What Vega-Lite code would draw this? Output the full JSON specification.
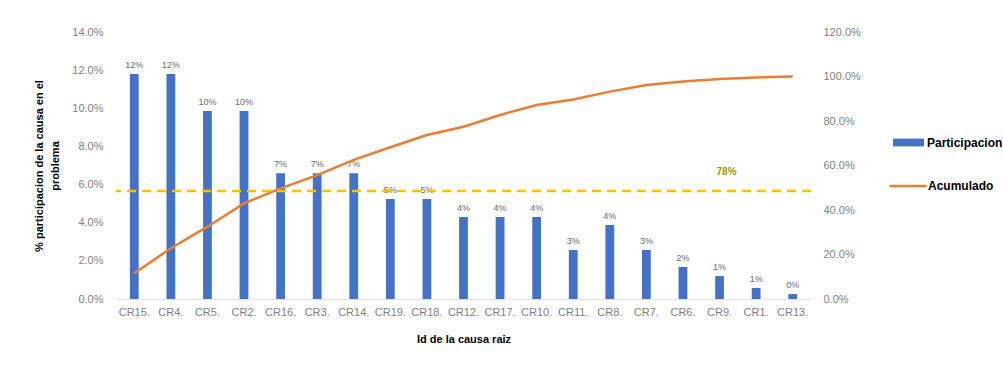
{
  "$schema": "https://vega.github.io/schema/vega-lite/v6.json",
  "autosize": "none",
  "width": 695,
  "height": 267,
  "padding": {"left": 116, "top": 32, "right": 192, "bottom": 77},
  "background": "white",
  "config": {
    "font": "Liberation Sans",
    "view": {"stroke": null},
    "axis": {"grid": false, "ticks": false, "labelColor": "#7f7f7f", "labelFontSize": 11, "titleFontWeight": "bold", "titleColor": "#000000", "titleFontSize": 11}
  },
  "datasets": {
    "causas": [
      {"id": "CR15.", "pct": 0.118, "acum": 0.116},
      {"id": "CR4.", "pct": 0.118, "acum": 0.228},
      {"id": "CR5.", "pct": 0.0986, "acum": 0.325},
      {"id": "CR2.", "pct": 0.0986, "acum": 0.43},
      {"id": "CR16.", "pct": 0.066, "acum": 0.497},
      {"id": "CR3.", "pct": 0.066, "acum": 0.557},
      {"id": "CR14.", "pct": 0.066, "acum": 0.625},
      {"id": "CR19.", "pct": 0.0524, "acum": 0.682},
      {"id": "CR18.", "pct": 0.0524, "acum": 0.737},
      {"id": "CR12.", "pct": 0.043, "acum": 0.774},
      {"id": "CR17.", "pct": 0.043, "acum": 0.827},
      {"id": "CR10.", "pct": 0.043, "acum": 0.872},
      {"id": "CR11.", "pct": 0.0257, "acum": 0.897},
      {"id": "CR8.", "pct": 0.0388, "acum": 0.932},
      {"id": "CR7.", "pct": 0.0257, "acum": 0.962},
      {"id": "CR6.", "pct": 0.0168, "acum": 0.977},
      {"id": "CR9.", "pct": 0.012, "acum": 0.989},
      {"id": "CR1.", "pct": 0.0058, "acum": 0.996},
      {"id": "CR13.", "pct": 0.0026, "acum": 1.0}
    ],
    "meta": [{"nivel": 0.485, "etiqueta": "78%", "pos": 0.57, "causa": "CR9."}]
  },
  "layer": [
    {
      "data": {"name": "causas"},
      "encoding": {
        "x": {
          "field": "id", "type": "nominal", "sort": null,
          "scale": {"domain": ["CR15.", "CR4.", "CR5.", "CR2.", "CR16.", "CR3.", "CR14.", "CR19.", "CR18.", "CR12.", "CR17.", "CR10.", "CR11.", "CR8.", "CR7.", "CR6.", "CR9.", "CR1.", "CR13."], "paddingInner": 0.76, "paddingOuter": 0.38},
          "axis": {"title": "Id de la causa raiz", "labelAngle": 0, "labelPadding": 7, "titlePadding": 16, "domain": true, "domainColor": "#e3e3e3"}
        },
        "y": {
          "field": "pct", "type": "quantitative",
          "scale": {"domain": [0, 0.14], "nice": false},
          "axis": {"values": [0, 0.02, 0.04, 0.06, 0.08, 0.1, 0.12, 0.14], "format": ".1%", "labelPadding": 13, "domain": false,
                   "title": ["% participacion de la causa en el", "problema"], "titlePadding": 11, "titleLineHeight": 16}
        }
      },
      "layer": [
        {
          "mark": {"type": "bar"},
          "encoding": {
            "fill": {"datum": "Participacion", "type": "nominal",
              "scale": {"domain": ["Participacion"], "range": ["#4472C4"]},
              "legend": {"title": null, "orient": "none", "legendX": 776, "legendY": 94,
                "symbolType": "M-1,-0.25H1V0.25H-1Z", "symbolSize": 961, "labelFontSize": 12, "labelFontWeight": "bold", "labelColor": "#000000", "labelOffset": 2}}
          }
        },
        {
          "mark": {"type": "text", "dy": -9, "fontSize": 9, "color": "#6a6a6a"},
          "encoding": {"text": {"field": "pct", "type": "quantitative", "format": ".0%"}}
        }
      ]
    },
    {
      "layer": [
        {
          "data": {"name": "causas"},
          "mark": {"type": "line", "strokeWidth": 2.5},
          "encoding": {
            "x": {"field": "id", "type": "nominal", "sort": null},
            "y": {
              "field": "acum", "type": "quantitative",
              "scale": {"domain": [0, 1.2], "nice": false},
              "axis": {"orient": "right", "values": [0, 0.2, 0.4, 0.6, 0.8, 1.0, 1.2], "format": ".1%", "labelPadding": 12, "domain": false, "title": null}
            },
            "stroke": {"datum": "Acumulado", "type": "nominal",
              "scale": {"domain": ["Acumulado"], "range": ["#ED7D31"]},
              "legend": {"title": null, "orient": "none", "legendX": 772, "legendY": 134,
                "symbolType": "stroke", "symbolSize": 1370, "symbolStrokeWidth": 2.5, "labelFontSize": 12, "labelFontWeight": "bold", "labelColor": "#000000", "labelOffset": 0}}
          }
        },
        {
          "data": {"name": "meta"},
          "mark": {"type": "rule", "color": "#FFC000", "strokeWidth": 2.5, "strokeDash": [9, 6]},
          "encoding": {"y": {"field": "nivel", "type": "quantitative"}}
        },
        {
          "data": {"name": "meta"},
          "mark": {"type": "text", "fontSize": 10, "fontWeight": "bold", "color": "#A89400", "dx": 7},
          "encoding": {
            "x": {"field": "causa", "type": "nominal"},
            "y": {"field": "pos", "type": "quantitative"},
            "text": {"field": "etiqueta"}
          }
        }
      ]
    }
  ],
  "resolve": {"scale": {"y": "independent"}}
}
